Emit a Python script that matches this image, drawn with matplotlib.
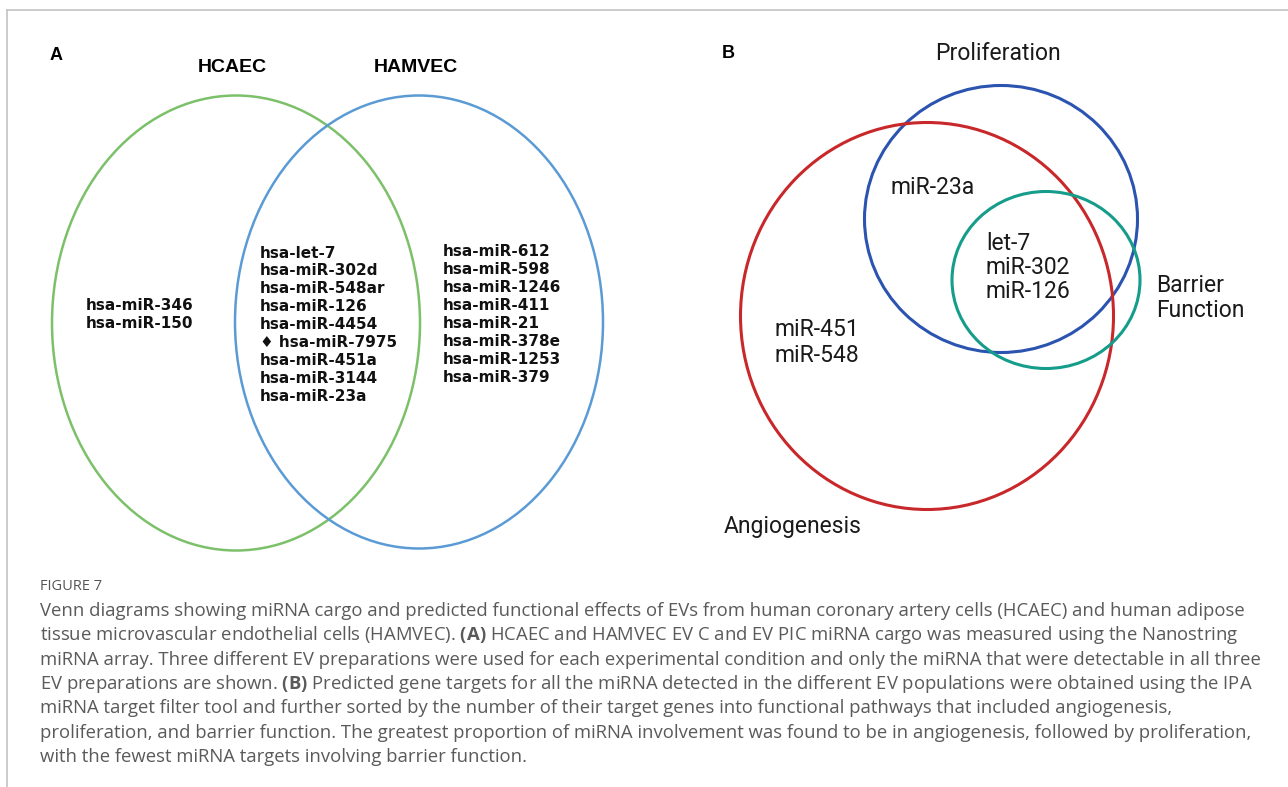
import matplotlib.pyplot as plt
from matplotlib.patches import Ellipse

plt.rcParams['mathtext.fontset'] = 'custom'
plt.rcParams['mathtext.rm'] = 'Open Sans'
plt.rcParams['mathtext.bf'] = 'Open Sans:bold'

# panel A: miRNA cargo by cell type
setA_names = ["HCAEC", "HAMVEC"]
hcaec_only = ["hsa-miR-346", "hsa-miR-150"]
shared = ["hsa-let-7", "hsa-miR-302d", "hsa-miR-548ar", "hsa-miR-126", "hsa-miR-4454",
          "\u2666 hsa-miR-7975", "hsa-miR-451a", "hsa-miR-3144", "hsa-miR-23a"]
hamvec_only = ["hsa-miR-612", "hsa-miR-598", "hsa-miR-1246", "hsa-miR-411", "hsa-miR-21",
               "hsa-miR-378e", "hsa-miR-1253", "hsa-miR-379"]

# panel B: functional pathways
setB_names = ["Proliferation", "Angiogenesis", "Barrier\nFunction"]
prolif_angio = ["miR-23a"]
all_three = ["let-7", "miR-302", "miR-126"]
angio_only = ["miR-451", "miR-548"]

caption_lines = [
    "Venn diagrams showing miRNA cargo and predicted functional effects of EVs from human coronary artery cells (HCAEC) and human adipose",
    "tissue microvascular endothelial cells (HAMVEC). $\\bf{(A)}$ HCAEC and HAMVEC EV C and EV PIC miRNA cargo was measured using the Nanostring",
    "miRNA array. Three different EV preparations were used for each experimental condition and only the miRNA that were detectable in all three",
    "EV preparations are shown. $\\bf{(B)}$ Predicted gene targets for all the miRNA detected in the different EV populations were obtained using the IPA",
    "miRNA target filter tool and further sorted by the number of their target genes into functional pathways that included angiogenesis,",
    "proliferation, and barrier function. The greatest proportion of miRNA involvement was found to be in angiogenesis, followed by proliferation,",
    "with the fewest miRNA targets involving barrier function.",
]


def main():
    fig = plt.figure(figsize=(12.88, 7.87), dpi=100)
    ax = fig.add_axes([0, 0, 1, 1])
    ax.set_xlim(0, 1288)
    ax.set_ylim(787, 0)
    ax.axis('off')

    # page frame
    ax.plot([7, 1288], [10, 10], color='#c4c4c4', lw=1.2)
    ax.plot([7, 7], [10, 787], color='#c4c4c4', lw=1.2)

    # ---- panel A ----
    ax.text(50, 55, "A", fontsize=13, fontweight='bold', family='Liberation Sans', va='center')
    ax.text(232, 67, setA_names[0], fontsize=14, fontweight='bold', family='Liberation Sans', ha='center', va='center')
    ax.text(416, 67, setA_names[1], fontsize=14, fontweight='bold', family='Liberation Sans', ha='center', va='center')
    ax.add_patch(Ellipse((236, 323), 368, 455, fill=False, ec='#7cc06a', lw=1.8))
    ax.add_patch(Ellipse((419, 322), 368, 453, fill=False, ec='#5b9bd5', lw=1.8))

    bold = dict(fontsize=11, fontweight='bold', family='DejaVu Sans', va='center', color='#111111')
    for i, s in enumerate(hcaec_only):
        ax.text(86, 305 + i * 18, s, **bold)
    for i, s in enumerate(shared):
        ax.text(260, 253 + i * 17.9, s, **bold)
    for i, s in enumerate(hamvec_only):
        ax.text(443, 251 + i * 18.1, s, **bold)

    # ---- panel B ----
    ax.text(722, 53, "B", fontsize=13, fontweight='bold', family='Liberation Sans', va='center')
    reg = dict(fontsize=16.5, family='Roboto', va='center', color='#1a1a1a')
    ax.add_patch(Ellipse((1001, 219), 273, 267, fill=False, ec='#2b53b0', lw=2.2))
    ax.add_patch(Ellipse((927, 316), 373, 387, fill=False, ec='#c8282a', lw=2.2))
    ax.add_patch(Ellipse((1046, 280), 188, 177, fill=False, ec='#169c8a', lw=2.2))
    ax.text(998, 53, setB_names[0], ha='center', **reg)
    ax.text(724, 527, setB_names[1], **reg)
    ax.text(1156, 298, setB_names[2], linespacing=1.12, **reg)
    for i, s in enumerate(prolif_angio):
        ax.text(891, 188 + i * 24, s, **reg)
    for i, s in enumerate(all_three):
        ax.text(986, 243 + i * 24, s, **reg)
    for i, s in enumerate(angio_only):
        ax.text(775, 330 + i * 25, s, **reg)

    # ---- caption ----
    ax.text(40, 587, "FIGURE 7", fontsize=10.5, family='Open Sans', color='#555555', va='center')
    for i, line in enumerate(caption_lines):
        ax.text(40, 611 + i * 24.3, line, fontsize=13.3, family='Open Sans', color='#5a5a5a', va='center')

    fig.savefig("out.png", dpi=100)


if __name__ == "__main__":
    main()
